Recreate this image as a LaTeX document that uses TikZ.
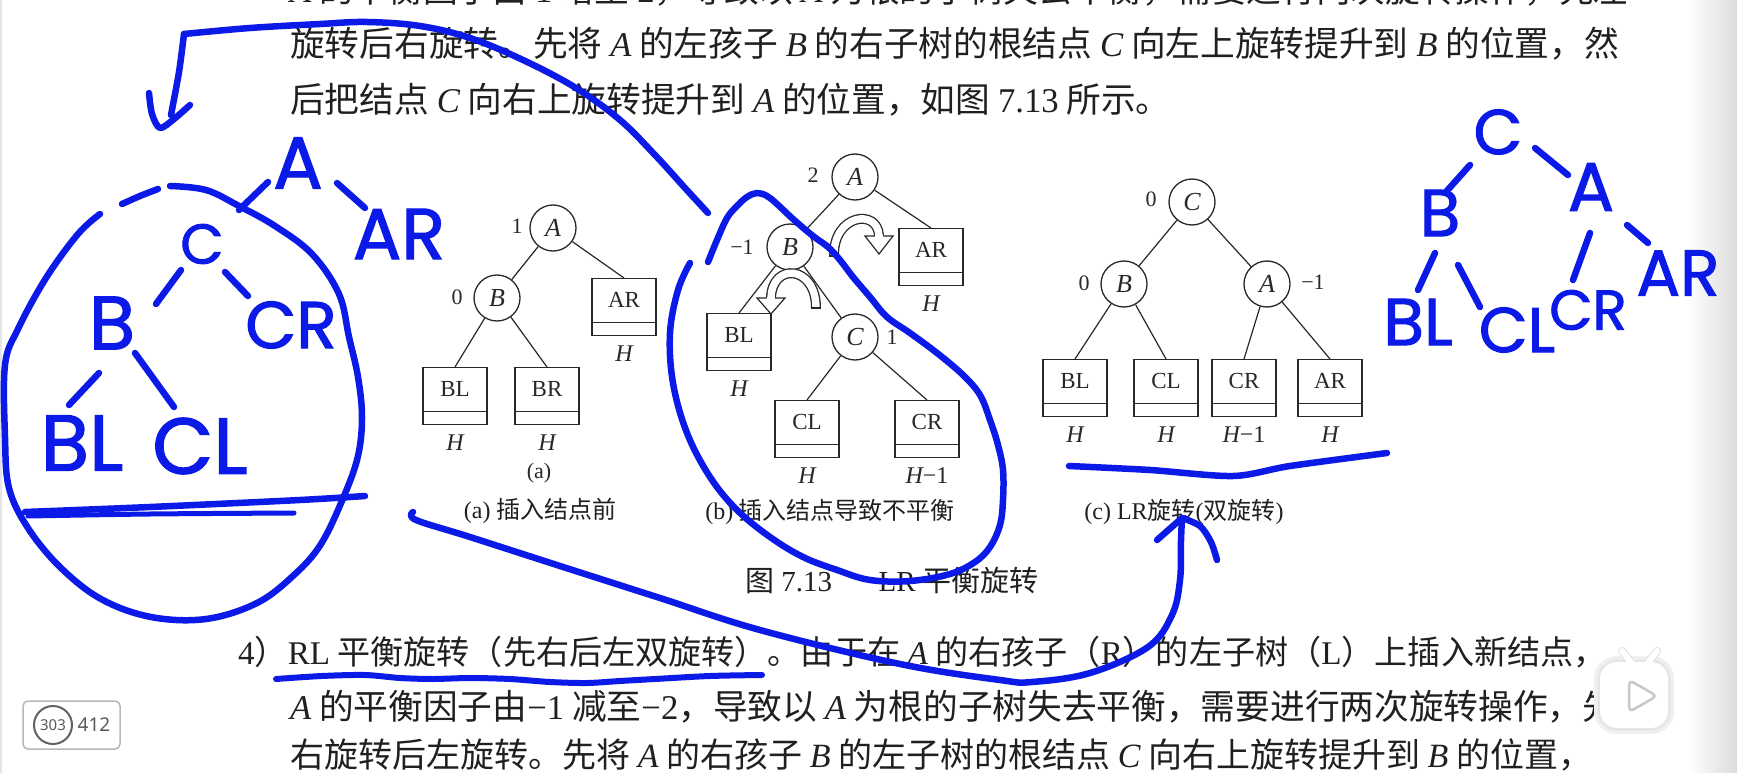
\documentclass[tikz,border=0pt]{standalone}
\usepackage{fontspec}
\setmainfont{Liberation Serif}
\newfontfamily\cjk{Noto Sans CJK SC}
\newfontfamily\hand{Poppins}[FakeBold=1.6]
\newfontfamily\uisans{Noto Sans}
\usetikzlibrary{calc}
\definecolor{ink}{RGB}{12,26,232}
\definecolor{txt}{RGB}{32,32,32}
\definecolor{prt}{RGB}{40,40,40}
\newcommand\iv[1]{{\rmfamily\itshape #1}}
\newcommand\nm[1]{{\rmfamily #1}}
\newcommand\tbx[5]{%
  \node[tbox, anchor=north] (#1) at (#2,#3) {};
  \draw[prt, line width=1.2pt] ([yshift=14pt]#1.south west) -- ([yshift=14pt]#1.south east);
  \node[btxt] (#1-t) at ([yshift=-22pt]#1.north) {#4};
  \node[htxt] (#1-h) at ([yshift=-17pt]#1.south) {#5};
}
\begin{document}
\begin{tikzpicture}[x=1pt,y=-1pt,
  para/.style={anchor=west, inner sep=0, text=txt, font=\cjk\fontsize{34.7}{40}\selectfont},
  capt/.style={inner sep=0, text=txt, font=\cjk\fontsize{24}{28}\selectfont},
  tcirc/.style={circle, draw=prt, line width=1.3pt, minimum size=46pt, inner sep=0, text=prt, font=\rmfamily\itshape\fontsize{26}{26}\selectfont},
  tbox/.style={rectangle, draw=prt, line width=1.3pt, minimum width=64pt, minimum height=57pt, inner sep=0},
  btxt/.style={inner sep=0, text=prt, font=\rmfamily\fontsize{23}{23}\selectfont},
  htxt/.style={inner sep=0, text=prt, font=\rmfamily\itshape\fontsize{24}{24}\selectfont},
  bfac/.style={inner sep=0, text=prt, font=\rmfamily\fontsize{22}{22}\selectfont},
  tedge/.style={draw=prt, line width=1.2pt},
  pen/.style={draw=ink, line width=6.5pt, line cap=round, line join=round},
  hw/.style={inner sep=0, text=ink, font=\hand\fontsize{72}{72}\selectfont}
]
\useasboundingbox (0,0) rectangle (1737,773);
\clip (0,0) rectangle (1737,773);
\fill[white] (0,0) rectangle (1737,773);
\shade[left color=white, right color=black!14] (1688,0) rectangle (1737,773);
\fill[black!10] (0,0) rectangle (2,773);

% ---------- printed text ----------
\node[para] (p0) at (290,-10) {\iv{A} 的平衡因子由 \nm{1} 增至 \nm{2}，导致以 \iv{A} 为根的子树失去平衡，需要进行两次旋转操作，先左};
\node[para] (p1) at (290,44) {旋转后右旋转。先将 \iv{A} 的左孩子 \iv{B} 的右子树的根结点 \iv{C} 向左上旋转提升到 \iv{B} 的位置，然};
\node[para] (p2) at (290,100) {后把结点 \iv{C} 向右上旋转提升到 \iv{A} 的位置，如图 \nm{7.13} 所示。};
\node[para, font=\cjk\fontsize{33.1}{40}\selectfont] (q1) at (238,652) {\nm{4}）\nm{RL} 平衡旋转（先右后左双旋转）。由于在 \iv{A} 的右孩子（\nm{R}）的左子树（\nm{L}）上插入新结点，};
\node[para] (q2) at (290,707) {\iv{A} 的平衡因子由\nm{−1} 减至\nm{−2}，导致以 \iv{A} 为根的子树失去平衡，需要进行两次旋转操作，先};
\node[para, font=\cjk\fontsize{34}{40}\selectfont] (q3) at (290,755) {右旋转后左旋转。先将 \iv{A} 的右孩子 \iv{B} 的左子树的根结点 \iv{C} 向右上旋转提升到 \iv{B} 的位置，};

% ---------- tree (a) ----------
\node[tcirc] (aA) at (553,228) {A};
\node[tcirc] (aB) at (497,298) {B};
\node[bfac] at (517,226) {1};
\node[bfac] at (457,297) {0};
\tbx{aAR}{624}{278}{AR}{H}
\tbx{aBL}{455}{367}{BL}{H}
\tbx{aBR}{547}{367}{BR}{H}
\draw[tedge] (aA) -- (aB);
\draw[tedge] (aA) -- (aAR.north);
\draw[tedge] (aB) -- (aBL.north);
\draw[tedge] (aB) -- (aBR.north);
\node[inner sep=0, text=prt, font=\rmfamily\fontsize{22}{22}\selectfont] at (539,473) {(a)};
\node[capt] at (540,511) {\nm{(a)} 插入结点前};

% ---------- tree (b) ----------
\node[tcirc] (bA) at (855,177) {A};
\node[tcirc] (bB) at (790,247) {B};
\node[tcirc] (bC) at (855,337) {C};
\node[bfac] at (813,175) {2};
\node[bfac] at (742,247) {−1};
\node[bfac] at (892,337) {1};
\tbx{bAR}{931}{228}{AR}{H}
\tbx{bBL}{739}{313}{BL}{H}
\tbx{bCL}{807}{400}{CL}{H}
\tbx{bCR}{927}{400}{CR}{H\rmfamily\upshape −1}
\draw[tedge] (bA) -- (bB);
\draw[tedge] (bA) -- (bAR.north);
\draw[tedge] (bB) -- (bBL.north);
\draw[tedge] (bB) -- (bC);
\draw[tedge] (bC) -- (bCL.north);
\draw[tedge] (bC) -- (bCR.north);
% hollow rotation arrows
\draw[prt, line width=10pt] (834,256) .. controls (833,214) and (878,208) .. (879,236);
\draw[white, line width=7.4pt] (834,256) .. controls (833,214) and (878,208) .. (879,236);
\draw[prt, line width=1.2pt] (829,256) -- (839,256);
\filldraw[fill=white, draw=prt, line width=1.2pt, line join=miter] (865,236) -- (893,236) -- (879,254) -- cycle;
\draw[white, line width=2pt] (875.4,236) -- (882.6,236);
\draw[prt, line width=10pt] (816,308) .. controls (816,265) and (772,262) .. (771,298);
\draw[white, line width=7.4pt] (816,308) .. controls (816,265) and (772,262) .. (771,298);
\draw[prt, line width=1.2pt] (811,308) -- (821,308);
\filldraw[fill=white, draw=prt, line width=1.2pt, line join=miter] (757,298) -- (785,298) -- (771,314) -- cycle;
\draw[white, line width=2pt] (767.4,298) -- (774.6,298);
\node[capt] at (830,512) {\nm{(b)} 插入结点导致不平衡};

% ---------- tree (c) ----------
\node[tcirc] (cC) at (1192,202) {C};
\node[tcirc] (cB) at (1124,284) {B};
\node[tcirc] (cA) at (1267,284) {A};
\node[bfac] at (1151,199) {0};
\node[bfac] at (1084,283) {0};
\node[bfac] at (1313,282) {−1};
\tbx{cBL}{1075}{359}{BL}{H}
\tbx{cCL}{1166}{359}{CL}{H}
\tbx{cCR}{1244}{359}{CR}{H\rmfamily\upshape −1}
\tbx{cAR}{1330}{359}{AR}{H}
\draw[tedge] (cC) -- (cB);
\draw[tedge] (cC) -- (cA);
\draw[tedge] (cB) -- (cBL.north);
\draw[tedge] (cB) -- (cCL.north);
\draw[tedge] (cA) -- (cCR.north);
\draw[tedge] (cA) -- (cAR.north);
\node[capt] at (1184,512) {\nm{(c) LR}旋转\nm{(}双旋转\nm{)}};

\node[inner sep=0, text=txt, font=\cjk\fontsize{29}{32}\selectfont] (fig) at (892,580) {图 \nm{7.13}\hspace{1.6em}\nm{LR} 平衡旋转};

% ---------- badge ----------
\draw[black!28, line width=1.5pt, rounded corners=5pt, fill=white] (23,701) rectangle (120,749);
\node[circle, draw=black!62, line width=2pt, minimum size=38pt, inner sep=0, text=black!65, font=\uisans\fontsize{15}{15}\selectfont] (pg) at (53,725) {303};
\node[inner sep=0, text=black!65, font=\uisans\fontsize{19}{19}\selectfont] (tot) at (94,725) {412};

% ---------- play icon ----------
\draw[black!6, line width=12pt, rounded corners=17pt] (1600,662) rectangle (1668,728);
\draw[black!10, line width=5pt, rounded corners=17pt] (1600,662) rectangle (1668,728);
\draw[black!12, line width=8pt, line cap=round] (1622,651) -- (1632,664);
\draw[black!12, line width=8pt, line cap=round] (1657,651) -- (1647,664);
\draw[white, line width=6pt, line cap=round] (1622,651) -- (1632,664);
\draw[white, line width=6pt, line cap=round] (1657,651) -- (1647,664);
\fill[white, rounded corners=17pt] (1600,662) rectangle (1668,728);
\filldraw[fill=white, draw=black!22, line width=2.5pt, rounded corners=5pt] (1629,680) -- (1629,712) -- (1657,696) -- cycle;

% ---------- handwriting ----------
% top hook arrow
\draw[pen] plot[smooth, tension=0.6] coordinates {(184,34) (250,28) (320,24) (367,22) (420,26) (470,38) (523,60) (576,88) (620,120) (655,155) (685,188) (708,213)};
\draw[pen] plot[smooth] coordinates {(184,34) (179,72) (171,115)};
\draw[pen] plot[smooth] coordinates {(149,93) (152,114) (160,128) (174,119) (190,105)};
% left loop
\draw[pen] plot[smooth] coordinates {(122,204) (140,196) (158,189)};
\draw[pen] plot[smooth, tension=0.6] coordinates {(170,186) (206,190) (239,206) (275,226) (312,254) (339,294) (349,337) (358,377) (362,417) (358,456) (344,496) (321,544) (294,575) (257,603) (206,619) (151,617) (101,599) (60,567) (28,528) (9,488) (5,437) (5,365) (18,329) (46,278) (78,234) (100,214)};
\draw[pen] plot[smooth] coordinates {(25,512) (150,507) (300,500) (365,496)};
\draw[pen, line width=5pt] plot[smooth] coordinates {(28,516) (150,514) (294,513)};
% left handwritten tree
\node[hw, scale=1.02] (hA) at (298,163) {A};
\node[hw, scale=1.0] (hAR) at (399,234) {AR};
\node[hw, scale=0.78] (hC) at (202,244) {C};
\node[hw, scale=1.05] (hB) at (112,323) {B};
\node[hw, scale=0.92] (hCR) at (291,325) {CR};
\node[hw, scale=1.1] (hBL) at (82,443) {BL};
\node[hw, scale=1.1] (hCL) at (200,446) {CL};
\draw[pen] (239,210) -- (268,182);
\draw[pen] (337,183) -- (365,208);
\draw[pen] (156,304) -- (181,270);
\draw[pen] (225,272) -- (248,296);
\draw[pen] (99,373) -- (69,405);
\draw[pen] (135,353) -- (174,407);
% right handwritten tree
\node[hw, scale=0.88] (rC) at (1498,132) {C};
\node[hw, scale=0.92] (rB) at (1440,213) {B};
\node[hw, scale=0.95] (rA) at (1591,187) {A};
\node[hw, scale=0.92] (rBL) at (1418,322) {BL};
\node[hw, scale=0.88] (rCL) at (1517,330) {CL};
\node[hw, scale=0.78] (rCR) at (1588,310) {CR};
\node[hw, scale=0.9] (rAR) at (1678,273) {AR};
\draw[pen] (1470,165) -- (1445,193);
\draw[pen] (1535,148) -- (1568,175);
\draw[pen] (1435,253) -- (1418,290);
\draw[pen] (1458,265) -- (1480,307);
\draw[pen] (1590,233) -- (1573,280);
\draw[pen] (1627,225) -- (1648,243);
% loop around tree (b)
\draw[pen] plot[smooth, tension=0.6] coordinates {(708,262) (717,240) (727,218) (737,206) (747,197) (757,193) (767,196) (777,204) (793,219) (813,236) (828,247) (840,260) (853,277) (870,297) (887,317) (910,333) (937,353) (963,375) (980,395) (990,420) (998,445) (1003,470) (1003,500) (1000,525) (990,547) (975,562) (950,574) (910,581) (870,580) (837,570) (803,557) (770,537) (737,510) (710,477) (687,433) (673,383) (670,333) (678,290) (690,263)};
% underline under tree (c)
\draw[pen] plot[smooth] coordinates {(1069,466) (1150,470) (1233,476) (1290,466) (1387,453)};
% long arrow to caption (c)
\draw[pen] plot[smooth, tension=0.6] coordinates {(413,512) (416,520) (470,537) (560,566) (660,598) (760,630) (900,664) (1000,680) (1032,682) (1090,673) (1148,647) (1172,615) (1180,580) (1181,540) (1182,518)};
\draw[pen] (1182,518) -- (1157,540);
\draw[pen] plot[smooth] coordinates {(1182,518) (1200,526) (1211,542) (1217,560)};
% underline in paragraph
\draw[pen, line width=6pt] plot[smooth] coordinates {(276,679) (322,676) (365,675) (400,678) (433,679) (470,678) (510,679) (550,682) (587,683) (620,681) (655,679) (710,676) (762,675)};
\end{tikzpicture}
\end{document}
